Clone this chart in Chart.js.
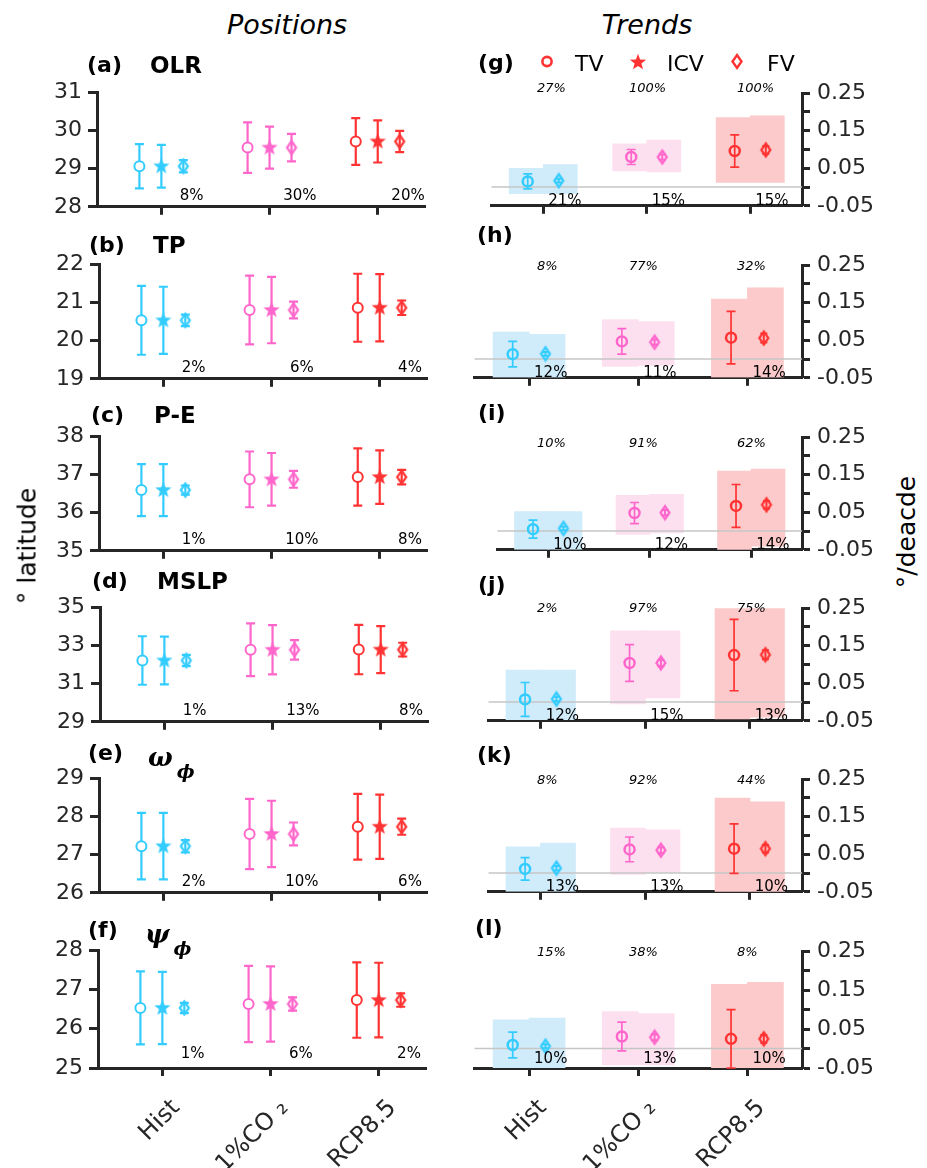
<!DOCTYPE html>
<html>
<head>
<meta charset="utf-8">
<script src="https://cdn.jsdelivr.net/npm/chart.js@4.4.1/dist/chart.umd.min.js"></script>
<style>
  body { margin: 0; background: #fff; }
  #fig { position: relative; width: 927px; height: 1168px; overflow: hidden; font-family: "DejaVu Sans"; color: #000; }
  canvas { position: absolute; }
  .t { position: absolute; white-space: nowrap; line-height: 1; }
</style>
</head>
<body>
<div id="fig"></div>
<script>
// ===== data =====
const scenarios = ["Hist", "1%CO \u2082", "RCP8.5"];
const sceneColors = ["#33ccff", "#ff66cc", "#ff3333"];
const cloudColors = ["#d0ebfa", "#fde0ef", "#fccaca"];

// positions (left column)
const posTags = ["(a)", "(b)", "(c)", "(d)", "(e)", "(f)"];
const posVars = ["OLR", "TP", "P-E", "MSLP", "\u03c9", "\u03c8"];
const posTicks = [
  [28, 29, 30, 31],
  [19, 20, 21, 22],
  [35, 36, 37, 38],
  [29, 31, 33, 35],
  [26, 27, 28, 29],
  [25, 26, 27, 28]
];
const posMean = [
  [29.06, 29.55, 29.71],
  [20.53, 20.80, 20.86],
  [36.59, 36.87, 36.93],
  [32.21, 32.77, 32.78],
  [27.22, 27.54, 27.73],
  [26.53, 26.63, 26.73]
];
const posTvErr = [
  [0.58, 0.66, 0.61],
  [0.90, 0.90, 0.89],
  [0.68, 0.73, 0.75],
  [1.27, 1.38, 1.29],
  [0.87, 0.92, 0.86],
  [0.93, 0.97, 0.96]
];
const posIcvErr = [
  [0.56, 0.55, 0.55],
  [0.88, 0.87, 0.88],
  [0.68, 0.69, 0.70],
  [1.25, 1.29, 1.23],
  [0.87, 0.87, 0.84],
  [0.92, 0.96, 0.95]
];
const posFvErr = [
  [0.16, 0.36, 0.28],
  [0.15, 0.22, 0.19],
  [0.12, 0.22, 0.19],
  [0.29, 0.51, 0.36],
  [0.16, 0.30, 0.21],
  [0.13, 0.17, 0.17]
];
const posPct = [
  ["8%", "30%", "20%"],
  ["2%", "6%", "4%"],
  ["1%", "10%", "8%"],
  ["1%", "13%", "8%"],
  ["2%", "10%", "6%"],
  ["1%", "6%", "2%"]
];

// trends (right column)
const trTags = ["(g)", "(h)", "(i)", "(j)", "(k)", "(l)"];
const trTicks = [-0.05, 0, 0.05, 0.1, 0.15, 0.2, 0.25];
const trTickLabels = ["-0.05", "", "0.05", "", "0.15", "", "0.25"];
const trTvMean = [
  [0.015, 0.080, 0.096],
  [0.013, 0.047, 0.057],
  [0.005, 0.048, 0.067],
  [0.007, 0.104, 0.125],
  [0.011, 0.063, 0.065],
  [0.009, 0.031, 0.025]
];
const trTvErr = [
  [0.020, 0.020, 0.043],
  [0.034, 0.034, 0.070],
  [0.024, 0.028, 0.057],
  [0.045, 0.049, 0.095],
  [0.030, 0.033, 0.066],
  [0.033, 0.037, 0.075]
];
const trFvMean = [
  [0.017, 0.080, 0.099],
  [0.014, 0.045, 0.056],
  [0.007, 0.049, 0.070],
  [0.008, 0.104, 0.126],
  [0.013, 0.061, 0.065],
  [0.006, 0.029, 0.025]
];
const trFvErr = [
  [0.005, 0.007, 0.010],
  [0.005, 0.007, 0.012],
  [0.005, 0.007, 0.010],
  [0.006, 0.008, 0.012],
  [0.006, 0.008, 0.010],
  [0.005, 0.008, 0.010]
];
// member spread (faint clouds) behind TV and FV
const trTvCloudLo = [
  [-0.018, 0.043, 0.012],
  [-0.048, -0.020, -0.048],
  [-0.049, -0.009, -0.050],
  [-0.047, -0.005, -0.045],
  [-0.049, -0.004, -0.050],
  [-0.050, -0.042, -0.050]
];
const trTvCloudHi = [
  [0.050, 0.115, 0.185],
  [0.072, 0.105, 0.160],
  [0.052, 0.095, 0.160],
  [0.085, 0.190, 0.250],
  [0.070, 0.120, 0.200],
  [0.074, 0.095, 0.165]
];
const trFvCloudLo = [
  [-0.018, 0.040, 0.012],
  [-0.048, -0.017, -0.048],
  [-0.049, -0.005, -0.040],
  [-0.047, 0.011, -0.040],
  [-0.049, 0.000, -0.050],
  [-0.050, -0.042, -0.050]
];
const trFvCloudHi = [
  [0.060, 0.125, 0.190],
  [0.066, 0.100, 0.190],
  [0.052, 0.098, 0.165],
  [0.085, 0.190, 0.250],
  [0.080, 0.115, 0.190],
  [0.078, 0.090, 0.170]
];
const trTopPct = [
  ["27%", "100%", "100%"],
  ["8%", "77%", "32%"],
  ["10%", "91%", "62%"],
  ["2%", "97%", "75%"],
  ["8%", "92%", "44%"],
  ["15%", "38%", "8%"]
];
const trBotPct = [
  ["21%", "15%", "15%"],
  ["12%", "11%", "14%"],
  ["10%", "12%", "14%"],
  ["12%", "15%", "13%"],
  ["13%", "13%", "10%"],
  ["10%", "13%", "10%"]
];

// ===== layout =====
const ROW_TOP = [87, 259, 431, 602, 773, 945];
const PLOT_H = 123;
const PAD_TOP = 14;
const POS_LEFT = [97, 99, 99, 100, 99, 98];
const POS_W = 329;
const POS_X = [0.405, 3.437];
const TR_LEFT = [490, 473, 496, 487, 487, 473];
const TR_RIGHT = 802;
const TR_X = [0.5, 3.5];
const POS_TAG_X = [87, 89, 91, 92, 88, 88];
const POS_TAG_Y = [65, 245, 415, 581, 753, 930];
const POS_VAR_X = [150, 153, 154, 157, 148, 145];
const TR_TAG_X = [478, 477, 478, 478, 477, 475];
const TR_TAG_Y = [63, 235, 413, 585, 755, 928];
const TOP_PCT_X = [537, 629, 737];
const TOP_PCT_Y = [87, 265, 442, 607, 779, 951];

const ink = "#262626";
const fig = document.getElementById("fig");
Chart.defaults.font.family = "DejaVu Sans";

function addCanvas(left, top, w, h) {
    const c = document.createElement("canvas");
    c.width = w; c.height = h;
    c.style.left = left + "px"; c.style.top = top + "px";
    c.style.width = w + "px"; c.style.height = h + "px";
    fig.appendChild(c);
    return c;
}

function addText(html, x, y, style, align) {
    const d = document.createElement("div");
    d.className = "t";
    d.innerHTML = html;
    Object.assign(d.style, style || {});
    d.style.left = x + "px";
    d.style.top = y + "px";
    d.style.transform = align === "center" ? "translate(-50%,-50%)" : "translate(0,-50%)";
    fig.appendChild(d);
    return d;
}

// ===== marker images =====
function starPoints(cx, cy, ro, ri) {
    const pts = [];
    for (let k = 0; k < 10; k++) {
        const r = k % 2 ? ri : ro;
        const a = -Math.PI / 2 + k * Math.PI / 5;
        pts.push([cx + r * Math.cos(a), cy + r * Math.sin(a)]);
    }
    return pts;
}

function starImg(color) {
    const c = document.createElement("canvas");
    c.width = 20; c.height = 20;
    const g = c.getContext("2d");
    g.fillStyle = color;
    g.beginPath();
    starPoints(10, 10.2, 8.5, 3.6).forEach(p => g.lineTo(p[0], p[1]));
    g.closePath();
    g.fill();
    return c;
}

function diamondImg(color) {
    const c = document.createElement("canvas");
    c.width = 14; c.height = 18;
    const g = c.getContext("2d");
    g.strokeStyle = color;
    g.lineWidth = 2.2;
    g.beginPath();
    g.moveTo(7, 2.5); g.lineTo(11.5, 9); g.lineTo(7, 15.5); g.lineTo(2.5, 9);
    g.closePath();
    g.stroke();
    return c;
}

const starImgs = sceneColors.map(starImg);
const diamondImgs = sceneColors.map(diamondImg);

// ===== error bars + zero line =====
const errorBarPlugin = {
    id: "errorBars",
    beforeDatasetsDraw(chart) { chart.$zeroDone = false; },
    beforeDatasetDraw(chart, args, opts) {
        const ds = chart.data.datasets[args.index];
        if (!ds.yErr) return;
        const ctx = chart.ctx, xs = chart.scales.x, ys = chart.scales.y;
        ctx.save();
        if (opts.zeroLine && !chart.$zeroDone) {
            const y0 = ys.getPixelForValue(0);
            ctx.strokeStyle = "#c6c6c6";
            ctx.lineWidth = 1.5;
            ctx.beginPath();
            ctx.moveTo(chart.chartArea.left, y0);
            ctx.lineTo(chart.chartArea.right, y0);
            ctx.stroke();
            chart.$zeroDone = true;
        }
        const cap = ds.errCap || 4.5;
        ds.data.forEach((p, i) => {
            const x = xs.getPixelForValue(p.x);
            const yt = ys.getPixelForValue(p.y + ds.yErr[i]);
            const yb = ys.getPixelForValue(p.y - ds.yErr[i]);
            ctx.strokeStyle = sceneColors[i];
            ctx.lineWidth = ds.errWidth || 2;
            ctx.beginPath();
            ctx.moveTo(x, yt); ctx.lineTo(x, yb);
            ctx.moveTo(x - cap, yt); ctx.lineTo(x + cap, yt);
            ctx.moveTo(x - cap, yb); ctx.lineTo(x + cap, yb);
            ctx.stroke();
        });
        ctx.restore();
    }
};

// ===== axes =====
function xAxis(range, showLabels, height) {
    return {
        type: "linear", min: range[0], max: range[1], offset: false,
        afterBuildTicks: s => { s.ticks = [1, 2, 3].map(v => ({ value: v })); },
        afterFit: s => { s.height = height; },
        grid: { display: true, offset: false, drawOnChartArea: false, drawTicks: true, tickLength: 8, tickWidth: 3, tickColor: ink },
        border: { display: true, width: 3, color: ink },
        ticks: {
            display: showLabels, autoSkip: false, minRotation: 45, maxRotation: 45,
            font: { size: 24 }, color: ink, padding: 18, labelOffset: 14,
            callback: v => scenarios[v - 1] || ""
        }
    };
}

function yAxis(range, tickVals, position, width, labelFn) {
    return {
        type: "linear", min: range[0], max: range[1], position,
        afterBuildTicks: s => { s.ticks = tickVals.map(v => ({ value: v })); },
        afterFit: s => { s.width = width; },
        grid: { display: true, drawOnChartArea: false, drawTicks: true, tickLength: position === "left" ? 9 : 8, tickWidth: 3, tickColor: ink },
        border: { display: true, width: 3, color: ink },
        ticks: { autoSkip: false, font: { size: 22 }, color: ink, padding: position === "left" ? 6 : 7, callback: labelFn }
    };
}

// ===== left column: positions =====
function positionPanel(r) {
    const left = POS_LEFT[r];
    const last = r === 5;
    const xH = last ? 110 : 16;
    const cw = left + POS_W + 6, ch = PAD_TOP + PLOT_H + xH;
    const cv = addCanvas(0, ROW_TOP[r] - PAD_TOP, cw, ch);
    const mk = (off, err, style, bg) => ({
        type: "scatter",
        data: [1, 2, 3].map((c, i) => ({ x: c + off, y: posMean[r][i] })),
        yErr: err[r], errCap: 4.5, errWidth: 2.2,
        pointStyle: style, pointRadius: 5, pointBorderWidth: 2,
        pointBorderColor: sceneColors, pointBackgroundColor: bg, order: 0
    });
    const t = posTicks[r];
    const chart = new Chart(cv, {
        type: "scatter",
        data: {
            datasets: [
                mk(-0.203, posTvErr, "circle", "#ffffff"),
                mk(0, posIcvErr, starImgs, "transparent"),
                mk(0.203, posFvErr, diamondImgs, "transparent")
            ]
        },
        options: {
            responsive: false, animation: false, events: [],
            layout: { padding: { top: PAD_TOP, right: 6, left: 0, bottom: 0 } },
            plugins: { legend: { display: false }, tooltip: { enabled: false }, errorBars: { zeroLine: false } },
            scales: {
                x: xAxis(POS_X, last, xH),
                y: yAxis([t[0], t[t.length - 1]], t, "left", left, v => String(v))
            }
        },
        plugins: [errorBarPlugin]
    });
    const xs = chart.scales.x;
    posPct[r].forEach((p, i) =>
        addText(p, xs.getPixelForValue(i + 1.28), ROW_TOP[r] + PLOT_H - 15, { fontSize: "15px" }, "center"));
}

// ===== right column: trends =====
function trendPanel(r) {
    const pl = TR_LEFT[r];
    const last = r === 5;
    const xH = last ? 110 : 16;
    const YW = 80;
    const cl = pl - 6;
    const cw = (TR_RIGHT - pl) + 6 + YW, ch = PAD_TOP + PLOT_H + xH;
    const cv = addCanvas(cl, ROW_TOP[r] - PAD_TOP, cw, ch);
    const pxU = (TR_RIGHT - pl) / (TR_X[1] - TR_X[0]);
    const bt = Math.round(0.33 * pxU);
    const cats = [1, 2, 3];
    const chart = new Chart(cv, {
        type: "scatter",
        data: {
            datasets: [
                {
                    type: "scatter",
                    data: cats.map((c, i) => ({ x: c - 0.15, y: trTvMean[r][i] })),
                    yErr: trTvErr[r], errCap: 4.5, errWidth: 1.7,
                    pointStyle: "circle", pointRadius: 5, pointBorderWidth: 2.5,
                    pointBorderColor: sceneColors, pointBackgroundColor: "transparent", order: 0
                },
                {
                    type: "scatter",
                    data: cats.map((c, i) => ({ x: c + 0.15, y: trFvMean[r][i] })),
                    yErr: trFvErr[r], errCap: 3.5, errWidth: 2,
                    pointStyle: diamondImgs, pointRadius: 5,
                    pointBorderColor: sceneColors, pointBackgroundColor: "transparent", order: 0
                },
                {
                    type: "bar",
                    data: cats.map((c, i) => ({ x: c - 0.165, y: [trTvCloudLo[r][i], trTvCloudHi[r][i]] })),
                    backgroundColor: cloudColors, borderWidth: 0, barThickness: bt, grouped: false, order: 3
                },
                {
                    type: "bar",
                    data: cats.map((c, i) => ({ x: c + 0.165, y: [trFvCloudLo[r][i], trFvCloudHi[r][i]] })),
                    backgroundColor: cloudColors, borderWidth: 0, barThickness: bt, grouped: false, order: 3
                }
            ]
        },
        options: {
            responsive: false, animation: false, events: [],
            layout: { padding: { top: PAD_TOP, right: 0, left: 6, bottom: 0 } },
            plugins: { legend: { display: false }, tooltip: { enabled: false }, errorBars: { zeroLine: true } },
            scales: {
                x: xAxis(TR_X, last, xH),
                y: yAxis([-0.05, 0.25], trTicks, "right", YW, (v, i) => trTickLabels[i])
            }
        },
        plugins: [errorBarPlugin]
    });
    const xs = chart.scales.x;
    trBotPct[r].forEach((p, i) =>
        addText(p, cl + xs.getPixelForValue(i + 1) + 5, ROW_TOP[r] + PLOT_H - 10, { fontSize: "15px" }, "left"));
    trTopPct[r].forEach((p, i) =>
        addText(p, TOP_PCT_X[i], TOP_PCT_Y[r], { fontSize: "13px", fontStyle: "italic" }, "left"));
}

for (let r = 0; r < 6; r++) {
    positionPanel(r);
    trendPanel(r);
}

// ===== texts =====
addText("Positions", 287, 24, { fontSize: "27px", fontStyle: "italic" }, "center");
addText("Trends", 647, 24, { fontSize: "27px", fontStyle: "italic" }, "center");

posTags.forEach((t, r) => addText(t, POS_TAG_X[r], POS_TAG_Y[r], { fontSize: "22px", fontWeight: "bold" }, "left"));
trTags.forEach((t, r) => addText(t, TR_TAG_X[r], TR_TAG_Y[r], { fontSize: "22px", fontWeight: "bold" }, "left"));

posVars.forEach((v, r) => {
    if (r < 4) {
        addText(v, POS_VAR_X[r], POS_TAG_Y[r], { fontSize: "23px", fontWeight: "bold" }, "left");
    } else {
        addText(v + '<span style="font-size:19px;position:relative;top:12px;margin-left:4px">\u03d5</span>',
            POS_VAR_X[r], POS_TAG_Y[r] + 4,
            { fontSize: "26px", fontWeight: "bold", fontStyle: "italic", fontFamily: "'DejaVu Serif'" }, "left");
    }
});

addText("\u00b0 latitude", 27, 546, { fontSize: "25px" }, "center")
    .style.transform = "translate(-50%,-50%) rotate(-90deg)";
addText("\u00b0/deacde", 906, 532, { fontSize: "25px" }, "center")
    .style.transform = "translate(-50%,-50%) rotate(-90deg)";

// legend in (g)
const red = sceneColors[2];
const starSvg = starPoints(9, 9.8, 8.5, 3.6).map(p => p[0].toFixed(1) + "," + p[1].toFixed(1)).join(" ");
const legendItems = [
    { svg: '<svg width="14" height="14"><circle cx="7" cy="7" r="4.6" fill="none" stroke="' + red + '" stroke-width="2.6"/></svg>', cx: 547, label: "TV", lx: 575 },
    { svg: '<svg width="18" height="18"><polygon points="' + starSvg + '" fill="' + red + '"/></svg>', cx: 638, label: "ICV", lx: 667 },
    { svg: '<svg width="14" height="18"><polygon points="7,2.5 11.5,9 7,15.5 2.5,9" fill="none" stroke="' + red + '" stroke-width="2.4"/></svg>', cx: 737, label: "FV", lx: 767 }
];
legendItems.forEach(it => {
    addText(it.svg, it.cx, 63, {}, "center");
    addText(it.label, it.lx, 64, { fontSize: "22px" }, "left");
});
</script>
</body>
</html>
